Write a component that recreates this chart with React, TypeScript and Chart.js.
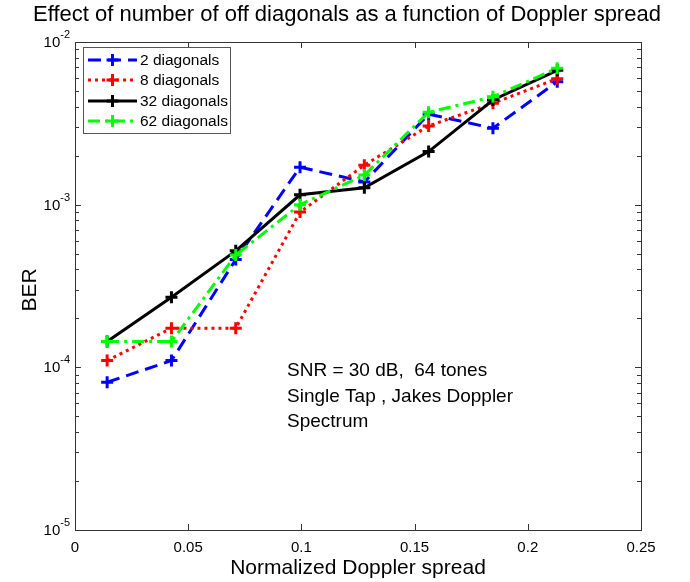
import React, { useEffect, useRef } from "react";
import { Chart, registerables } from "chart.js";
Chart.register(...registerables);

const chartTitle = "Effect of number of off diagonals as a function of Doppler spread";
const xLabel = "Normalized Doppler spread";
const yLabel = "BER";
const xValues = [0.0142, 0.0426, 0.071, 0.0994, 0.1278, 0.1562, 0.1846, 0.213];
const ber2 = [8.1e-5, 1.1e-4, 4.6e-4, 1.7e-3, 1.38e-3, 3.6e-3, 2.95e-3, 5.7e-3];
const ber8 = [1.1e-4, 1.74e-4, 1.74e-4, 9.0e-4, 1.75e-3, 3.05e-3, 4.2e-3, 5.95e-3];
const ber32 = [1.44e-4, 2.7e-4, 5.2e-4, 1.15e-3, 1.27e-3, 2.12e-3, 4.4e-3, 6.7e-3];
const ber62 = [1.44e-4, 1.44e-4, 4.9e-4, 1.0e-3, 1.52e-3, 3.7e-3, 4.6e-3, 6.9e-3];
const seriesLabels = ["2 diagonals", "8 diagonals", "32 diagonals", "62 diagonals"];
const xTicks = [0, 0.05, 0.1, 0.15, 0.2, 0.25];
const xTickLabels = ["0", "0.05", "0.1", "0.15", "0.2", "0.25"];
const yExponents = [-5, -4, -3, -2];
const annotationLines = ["SNR = 30 dB,  64 tones", "Single Tap , Jakes Doppler", "Spectrum"];

const FONT = "Arial, 'Liberation Sans', Helvetica, sans-serif";
const styles = [
  { color: "#0000FF", dash: [13, 7] },
  { color: "#FF0000", dash: [3, 4] },
  { color: "#000000", dash: [] as number[] },
  { color: "#00FF00", dash: [12, 5, 3, 5] },
];
const seriesValues = [ber2, ber8, ber32, ber62];

const decorPlugin = {
  id: "decor",
  afterDraw(chart: any) {
    const ctx: CanvasRenderingContext2D = chart.ctx;
    const { left, right, top, bottom } = chart.chartArea;
    const xs = chart.scales.x;
    const ys = chart.scales.y;
    ctx.save();
    ctx.strokeStyle = "#333";
    ctx.lineWidth = 1;
    ctx.setLineDash([]);
    ctx.strokeRect(Math.round(left) + 0.5, Math.round(top) + 0.5, Math.round(right - left), Math.round(bottom - top));
    ctx.beginPath();
    xTicks.forEach((v) => {
      const px = Math.round(xs.getPixelForValue(v)) + 0.5;
      ctx.moveTo(px, bottom);
      ctx.lineTo(px, bottom - 6);
      ctx.moveTo(px, top);
      ctx.lineTo(px, top + 6);
    });
    yExponents.forEach((e) => {
      const py = Math.round(ys.getPixelForValue(Math.pow(10, e))) + 0.5;
      ctx.moveTo(left, py);
      ctx.lineTo(left + 6, py);
      ctx.moveTo(right, py);
      ctx.lineTo(right - 6, py);
      if (e < -2) {
        for (let m = 2; m <= 9; m++) {
          const pm = Math.round(ys.getPixelForValue(m * Math.pow(10, e))) + 0.5;
          ctx.moveTo(left, pm);
          ctx.lineTo(left + 4, pm);
          ctx.moveTo(right, pm);
          ctx.lineTo(right - 4, pm);
        }
      }
    });
    ctx.stroke();

    ctx.fillStyle = "#000";
    ctx.font = `15px ${FONT}`;
    ctx.textAlign = "center";
    ctx.textBaseline = "middle";
    xTicks.forEach((v, i) => {
      ctx.fillText(xTickLabels[i], xs.getPixelForValue(v), bottom + 18);
    });
    yExponents.forEach((e) => {
      const py = ys.getPixelForValue(Math.pow(10, e));
      const expText = String(e);
      ctx.font = `11px ${FONT}`;
      const ew = ctx.measureText(expText).width;
      const endX = left - 5;
      ctx.textAlign = "left";
      ctx.fillText(expText, endX - ew, py - 7);
      ctx.font = `15px ${FONT}`;
      ctx.textAlign = "right";
      ctx.fillText("10", endX - ew, py + 1);
    });
    ctx.font = `21px ${FONT}`;
    ctx.textAlign = "center";
    ctx.fillText(xLabel, 358, 568);
    ctx.save();
    ctx.translate(30, 290);
    ctx.rotate(-Math.PI / 2);
    ctx.fillText(yLabel, 0, 0);
    ctx.restore();
    ctx.font = `22px ${FONT}`;
    ctx.fillText(chartTitle, 347, 15);
    ctx.font = `19px ${FONT}`;
    ctx.textAlign = "left";
    annotationLines.forEach((t, i) => ctx.fillText(t, 287, 371 + i * 25.5));

    const lx = 83, ly = 47, lw = 147, lh = 86;
    ctx.fillStyle = "#fff";
    ctx.fillRect(lx, ly, lw, lh);
    ctx.strokeStyle = "#555";
    ctx.lineWidth = 1;
    ctx.strokeRect(lx + 0.5, ly + 0.5, lw, lh);
    const rows = [60, 80, 101, 121];
    seriesLabels.forEach((lab, i) => {
      const st = styles[i];
      const ry = rows[i];
      ctx.strokeStyle = st.color;
      ctx.lineWidth = 3;
      ctx.setLineDash(st.dash);
      ctx.beginPath();
      ctx.moveTo(88, ry);
      ctx.lineTo(137, ry);
      ctx.stroke();
      ctx.setLineDash([]);
      ctx.beginPath();
      ctx.moveTo(112.5 - 6, ry);
      ctx.lineTo(112.5 + 6, ry);
      ctx.moveTo(112.5, ry - 6);
      ctx.lineTo(112.5, ry + 6);
      ctx.stroke();
      ctx.fillStyle = "#000";
      ctx.font = `15.5px ${FONT}`;
      ctx.textAlign = "left";
      ctx.textBaseline = "middle";
      ctx.fillText(lab, 140, ry + 1);
    });
    ctx.restore();
  },
};

export default function App() {
  const ref = useRef<HTMLCanvasElement>(null);
  useEffect(() => {
    const datasets = seriesValues.map((vals, i) => ({
      label: seriesLabels[i],
      data: vals.map((v, j) => ({ x: xValues[j], y: v })),
      borderColor: styles[i].color,
      backgroundColor: styles[i].color,
      borderWidth: 3,
      borderDash: styles[i].dash,
      pointStyle: "cross" as const,
      pointRadius: 6,
      pointBorderWidth: 3,
      pointBorderColor: styles[i].color,
      tension: 0,
      fill: false,
      order: 4 - i,
    }));
    const chart = new Chart(ref.current!, {
      type: "line",
      data: { datasets },
      options: {
        animation: false,
        responsive: false,
        devicePixelRatio: 1,
        layout: { padding: { left: 75, top: 42, right: 49, bottom: 52 } },
        plugins: { legend: { display: false }, tooltip: { enabled: false }, title: { display: false } },
        scales: {
          x: { type: "linear", min: 0, max: 0.25, display: false },
          y: { type: "logarithmic", min: 1e-5, max: 1e-2, display: false },
        },
      },
      plugins: [decorPlugin],
    });
    return () => chart.destroy();
  }, []);
  return (
    <div style={{ position: "fixed", left: 0, top: 0, width: 690, height: 582, background: "#fff" }}>
      <canvas ref={ref} width={690} height={582} style={{ width: 690, height: 582, display: "block" }} />
    </div>
  );
}
